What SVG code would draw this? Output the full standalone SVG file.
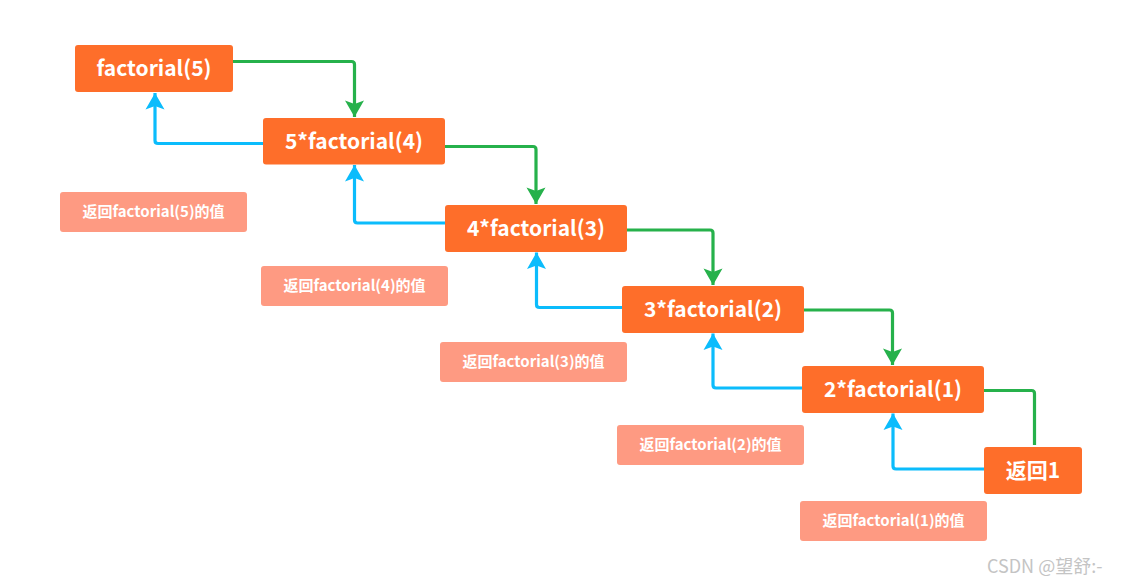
<svg xmlns="http://www.w3.org/2000/svg" width="1130" height="586" viewBox="0 0 1130 586">
<style>
.node{fill:#fe6e2a;}
.lbl{fill:#fe9a82;}
.nt{fill:#ffffff;font-family:"Noto Sans CJK SC","Noto Sans",sans-serif;font-weight:bold;font-size:21px;text-anchor:middle;}
.lt{fill:#ffffff;font-family:"Noto Sans CJK SC","Noto Sans",sans-serif;font-weight:bold;font-size:15px;text-anchor:middle;}
.g{fill:none;stroke:#26b14b;stroke-width:3.2;stroke-linejoin:round;}
.b{fill:none;stroke:#0bbcfc;stroke-width:3.2;stroke-linejoin:round;}
.wm{fill:#c4c4c4;font-family:"Noto Sans CJK SC","Liberation Sans",sans-serif;font-size:18px;}
</style>
<defs>
<marker id="ag" markerUnits="userSpaceOnUse" markerWidth="22" markerHeight="22" viewBox="-18 -11 20 22" refX="0" refY="0" orient="auto">
<path d="M0,0 L-16.5,-9.5 L-13,0 L-16.5,9.5 Z" fill="#26b14b"/>
</marker>
<marker id="ab" markerUnits="userSpaceOnUse" markerWidth="22" markerHeight="22" viewBox="-18 -11 20 22" refX="0" refY="0" orient="auto">
<path d="M0,0 L-16.5,-9.5 L-13,0 L-16.5,9.5 Z" fill="#0bbcfc"/>
</marker>
</defs>
<g id="connectors">
<path class="g" d="M233,61.5 H351.5 Q354.5,61.5 354.5,64.5 V117" marker-end="url(#ag)"/>
<path class="g" d="M445,146.5 H533 Q536,146.5 536,149.5 V204" marker-end="url(#ag)"/>
<path class="g" d="M627,230 H710 Q713,230 713,233 V285" marker-end="url(#ag)"/>
<path class="g" d="M804,310 H889.5 Q892.5,310 892.5,313 V365" marker-end="url(#ag)"/>
<path class="g" d="M984,390.5 H1031.5 Q1034.5,390.5 1034.5,393.5 V445"/>
<path class="b" d="M263,143.5 H158 Q155,143.5 155,140.5 V93" marker-end="url(#ab)"/>
<path class="b" d="M445,223 H357.5 Q354.5,223 354.5,220 V165" marker-end="url(#ab)"/>
<path class="b" d="M622,307.5 H539.5 Q536.5,307.5 536.5,304.5 V252.5" marker-end="url(#ab)"/>
<path class="b" d="M802,388 H716 Q713,388 713,385 V333.5" marker-end="url(#ab)"/>
<path class="b" d="M984,469 H896 Q893,469 893,466 V413.5" marker-end="url(#ab)"/>
</g>
<g id="n1"><rect class="node" x="75" y="45" width="158" height="47" rx="3"/><text class="nt" x="154" y="76">factorial(5)</text></g>
<g id="n2"><rect class="node" x="263" y="118" width="182" height="46.5" rx="3"/><text class="nt" x="354" y="149">5*factorial(4)</text></g>
<g id="n3"><rect class="node" x="445" y="205" width="182" height="47" rx="3"/><text class="nt" x="536" y="236">4*factorial(3)</text></g>
<g id="n4"><rect class="node" x="622" y="286" width="182" height="47" rx="3"/><text class="nt" x="713" y="317">3*factorial(2)</text></g>
<g id="n5"><rect class="node" x="802" y="366" width="182" height="47" rx="3"/><text class="nt" x="893" y="397">2*factorial(1)</text></g>
<g id="n6"><rect class="node" x="984" y="447" width="98" height="47" rx="3"/><text class="nt" x="1033" y="478">返回1</text></g>
<g id="l5"><rect class="lbl" x="60" y="192" width="187" height="40" rx="3"/><text class="lt" x="153.5" y="217">返回factorial(5)的值</text></g>
<g id="l4"><rect class="lbl" x="261" y="266" width="187" height="40" rx="3"/><text class="lt" x="354.5" y="291">返回factorial(4)的值</text></g>
<g id="l3"><rect class="lbl" x="440" y="342" width="187" height="40" rx="3"/><text class="lt" x="533.5" y="367">返回factorial(3)的值</text></g>
<g id="l2"><rect class="lbl" x="617" y="425" width="187" height="40" rx="3"/><text class="lt" x="710.5" y="450">返回factorial(2)的值</text></g>
<g id="l1"><rect class="lbl" x="800" y="501" width="187" height="40" rx="3"/><text class="lt" x="893.5" y="526">返回factorial(1)的值</text></g>
<text class="wm" x="987" y="573">CSDN @望舒:-</text>
</svg>
